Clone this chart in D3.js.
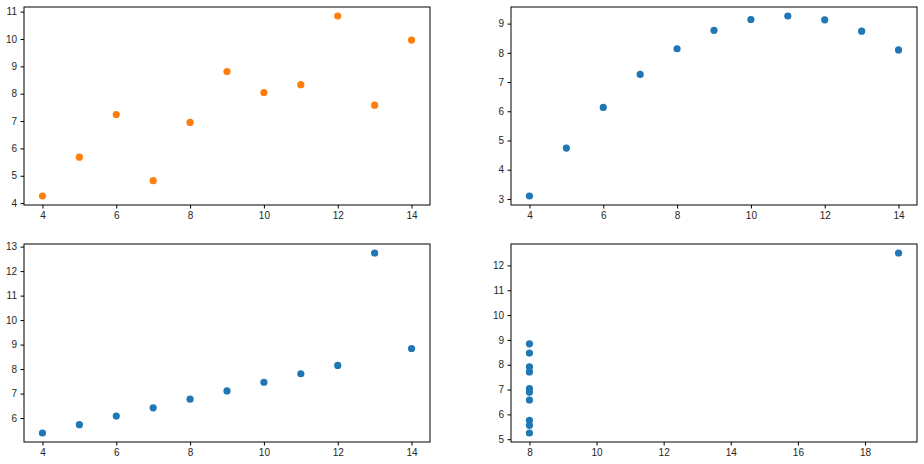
<!DOCTYPE html>
<html>
<head>
<meta charset="utf-8">
<script src="https://cdn.jsdelivr.net/npm/d3@7"></script>
<style>
  body { margin: 0; background: #fff; }
  svg { display: block; }
  .tick text { font-family: "Liberation Sans Narrow", "Liberation Sans", sans-serif; font-stretch: condensed; font-size: 10px; fill: #262626; }
</style>
</head>
<body>
<div id="chart"></div>
<script>
let x123 = [10, 8, 13, 9, 11, 14, 6, 4, 12, 7, 5];
let x4 = [8, 8, 8, 8, 8, 8, 8, 19, 8, 8, 8];
let y1 = [8.04, 6.95, 7.58, 8.81, 8.33, 9.96, 7.24, 4.26, 10.84, 4.82, 5.68];
let y2 = [9.14, 8.14, 8.74, 8.77, 9.26, 8.10, 6.13, 3.10, 9.13, 7.26, 4.74];
let y3 = [7.46, 6.77, 12.74, 7.11, 7.81, 8.84, 6.08, 5.39, 8.15, 6.42, 5.73];
let y4 = [6.58, 5.76, 7.71, 8.84, 8.47, 7.04, 5.25, 12.50, 5.56, 7.91, 6.89];

let panels = [
    {xs: x123, ys: y1, left: 24, top: 7, color: "#ff7f0e"},
    {xs: x123, ys: y2, left: 511, top: 7, color: "#1f77b4"},
    {xs: x123, ys: y3, left: 24, top: 244, color: "#1f77b4"},
    {xs: x4, ys: y4, left: 511, top: 244, color: "#1f77b4"}
];

let svg = d3.select("#chart").append("svg")
    .attr("width", 924)
    .attr("height", 464);

// matplotlib style 5% margins around the data
function padded(vals) {
    let lo = d3.min(vals), hi = d3.max(vals), m = (hi - lo) * 0.05;
    return [lo - m, hi + m];
}

panels.forEach((p) => {
    let width = 406,
        height = 198;

    let xScale = d3.scaleLinear().range([0, width]).domain(padded(p.xs));
    let yScale = d3.scaleLinear().range([height, 0]).domain(padded(p.ys));

    let g = svg.append("g")
        .attr("transform", "translate(" + p.left + "," + p.top + ")");

    g.append("g")
        .attr("transform", "translate(0," + height + ")")
        .call(d3.axisBottom(xScale).tickValues(d3.range(Math.ceil(xScale.domain()[0] / 2) * 2, xScale.domain()[1], 2)).tickSize(3.5).tickPadding(3.5).tickFormat(d3.format("d")))
        .call(a => a.select(".domain").remove());

    g.append("g")
        .call(d3.axisLeft(yScale).tickValues(d3.range(Math.ceil(yScale.domain()[0]), yScale.domain()[1], 1)).tickSize(3.5).tickPadding(3.5).tickFormat(d3.format("d")))
        .call(a => a.select(".domain").remove());

    g.append("rect")
        .attr("x", 0).attr("y", 0)
        .attr("width", width).attr("height", height)
        .attr("fill", "none")
        .attr("stroke", "#000")
        .attr("stroke-width", 1);

    g.append("g")
        .selectAll("circle")
        .data(p.xs.map((x, j) => ({x: x, y: p.ys[j]})))
        .enter()
        .append("circle")
        .attr("cx", (d) => xScale(d.x))
        .attr("cy", (d) => yScale(d.y))
        .attr("r", 3.6)
        .style("fill", p.color);
});
</script>
</body>
</html>
